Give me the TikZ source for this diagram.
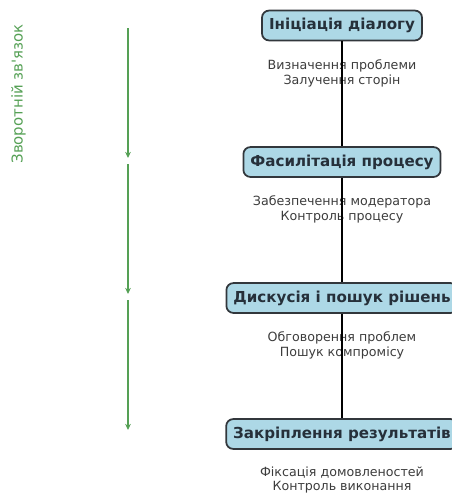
\documentclass[tikz,border=0pt]{standalone}
\usepackage{fontspec}
\setmainfont{DejaVu Sans}
\usetikzlibrary
  {
    arrows.meta,              % arrow heads
    positioning,              % place nodes relative to other nodes
  }

\definecolor{boxfill}{RGB}{173,216,230}
\definecolor{boxedge}{RGB}{50,55,60}
\definecolor{boxtext}{RGB}{38,48,58}
\definecolor{notetext}{RGB}{60,60,60}
\definecolor{loopgreen}{RGB}{85,160,85}

\tikzset{
  stage/.style={draw=boxedge, line width=1pt, fill=boxfill, rounded corners=4pt,
    text=boxtext, font=\fontsize{8.6}{10}\selectfont\bfseries,
    minimum height=17pt, inner xsep=4pt},
  note/.style={text=notetext, font=\fontsize{7.2}{8.5}\selectfont, align=center},
  flow/.style={line width=1.1pt, black},
  feedback/.style={loopgreen, line width=0.6pt, -{Stealth[length=3.5pt,width=3.2pt]}},
}

\begin{document}
\begin{tikzpicture}[x=0.02cm, y=-0.02cm]
    \useasboundingbox (0,0) rectangle (452,495);
    \clip (0,0) rectangle (452,495);

    % stages of the dialogue
    \node [stage] (s1) at (342,25.5) {Ініціація діалогу};
    \node [stage] (s2) at (342,162)  {Фасилітація процесу};
    \node [stage] (s3) at (342,298)  {Дискусія і пошук рішень};
    \node [stage] (s4) at (342,434)  {Закріплення результатів};

    % what happens at each stage
    \node [note] (n1) at (342,73)  {Визначення проблеми\\Залучення сторін};
    \node [note] (n2) at (342,209) {Забезпечення модератора\\Контроль процесу};
    \node [note] (n3) at (342,345) {Обговорення проблем\\Пошук компромісу};
    \node [note] (n4) at (342,480) {Фіксація домовленостей\\Контроль виконання};

    \draw [flow] (s1.south) -- (s2.north);
    \draw [flow] (s2.south) -- (s3.north);
    \draw [flow] (s3.south) -- (s4.north);

    % feedback loop on the left
    \coordinate (f0) at (128,28);
    \coordinate (f1) at (128,158);
    \coordinate (f2) at (128,164);
    \coordinate (f3) at (128,294);
    \coordinate (f4) at (128,300);
    \coordinate (f5) at (128,430);

    \draw [feedback] (f0) -- (f1);
    \draw [feedback] (f2) -- (f3);
    \draw [feedback] (f4) -- (f5);

    \node [rotate=90, text=loopgreen, font=\fontsize{8.5}{10}\selectfont] (fb) at (18.5,94) {Зворотній зв\textquotesingle язок};
\end{tikzpicture}
\end{document}
